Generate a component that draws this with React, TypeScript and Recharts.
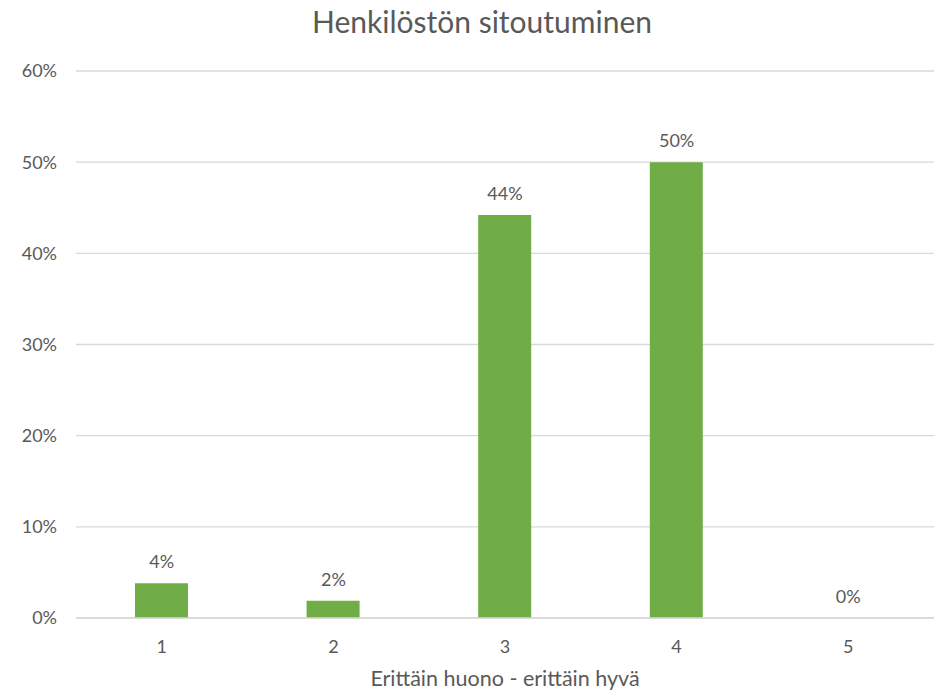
import React from 'react';
import { ComposedChart, Bar, Line, XAxis, YAxis, CartesianGrid, LabelList } from 'recharts';

// Answer scale 1..5 and share of respondents (%)
const categories = ['1', '2', '3', '4', '5'];
const shares = [3.8, 1.9, 44.2, 50.0, 0];
const yTicks = [0, 10, 20, 30, 40, 50, 60];

const title = 'Henkilöstön sitoutuminen';
const xTitle = 'Erittäin huono - erittäin hyvä';

const FONT = 'Lato, "Open Sans", sans-serif';
const TEXT = '#595959';
const GRID = '#D9D9D9';
const GREEN = '#70AD47';

const data = categories.map((c, i) => ({ name: c, value: shares[i] }));

export default function App() {
  return (
    <div style={{ position: 'absolute', left: 0, top: 0, width: 941, height: 693, background: '#fff', fontFamily: FONT }}>
      <div
        style={{
          position: 'absolute',
          top: 6,
          left: 0,
          width: 964,
          textAlign: 'center',
          fontSize: 30,
          lineHeight: '30px',
          color: TEXT,
          whiteSpace: 'nowrap',
        }}
      >
        {title}
      </div>
      <ComposedChart
        width={941}
        height={693}
        data={data}
        margin={{ top: 71, right: 7, left: 16, bottom: 45 }}
      >
        <CartesianGrid vertical={false} stroke={GRID} strokeWidth={1.3} />
        <XAxis
          dataKey="name"
          height={30}
          axisLine={{ stroke: GRID, strokeWidth: 1.3 }}
          tickLine={false}
          tickSize={0}
          tickMargin={22}
          tick={{ fill: TEXT, fontSize: 18, fontFamily: FONT }}
        />
        <YAxis
          width={60}
          domain={[0, 60]}
          ticks={yTicks}
          axisLine={false}
          tickLine={false}
          tickSize={0}
          tickMargin={19}
          tickFormatter={(v: number) => `${v}%`}
          tick={{ fill: TEXT, fontSize: 18, fontFamily: FONT }}
        />
        <Bar dataKey="value" fill={GREEN} barSize={53} isAnimationActive={false} />
        {/* invisible line carrying the value labels, so the 0% category still gets one */}
        <Line
          dataKey="value"
          stroke="none"
          dot={false}
          activeDot={false}
          legendType="none"
          isAnimationActive={false}
        >
          <LabelList
            dataKey="value"
            position="top"
            offset={15}
            formatter={(v: number) => `${Math.round(v)}%`}
            style={{ fill: TEXT, fontSize: 18, fontFamily: FONT }}
          />
        </Line>
      </ComposedChart>
      <div
        style={{
          position: 'absolute',
          top: 668,
          left: 76,
          width: 858,
          textAlign: 'center',
          fontSize: 21.5,
          lineHeight: '21.5px',
          color: TEXT,
          whiteSpace: 'nowrap',
        }}
      >
        {xTitle}
      </div>
    </div>
  );
}
